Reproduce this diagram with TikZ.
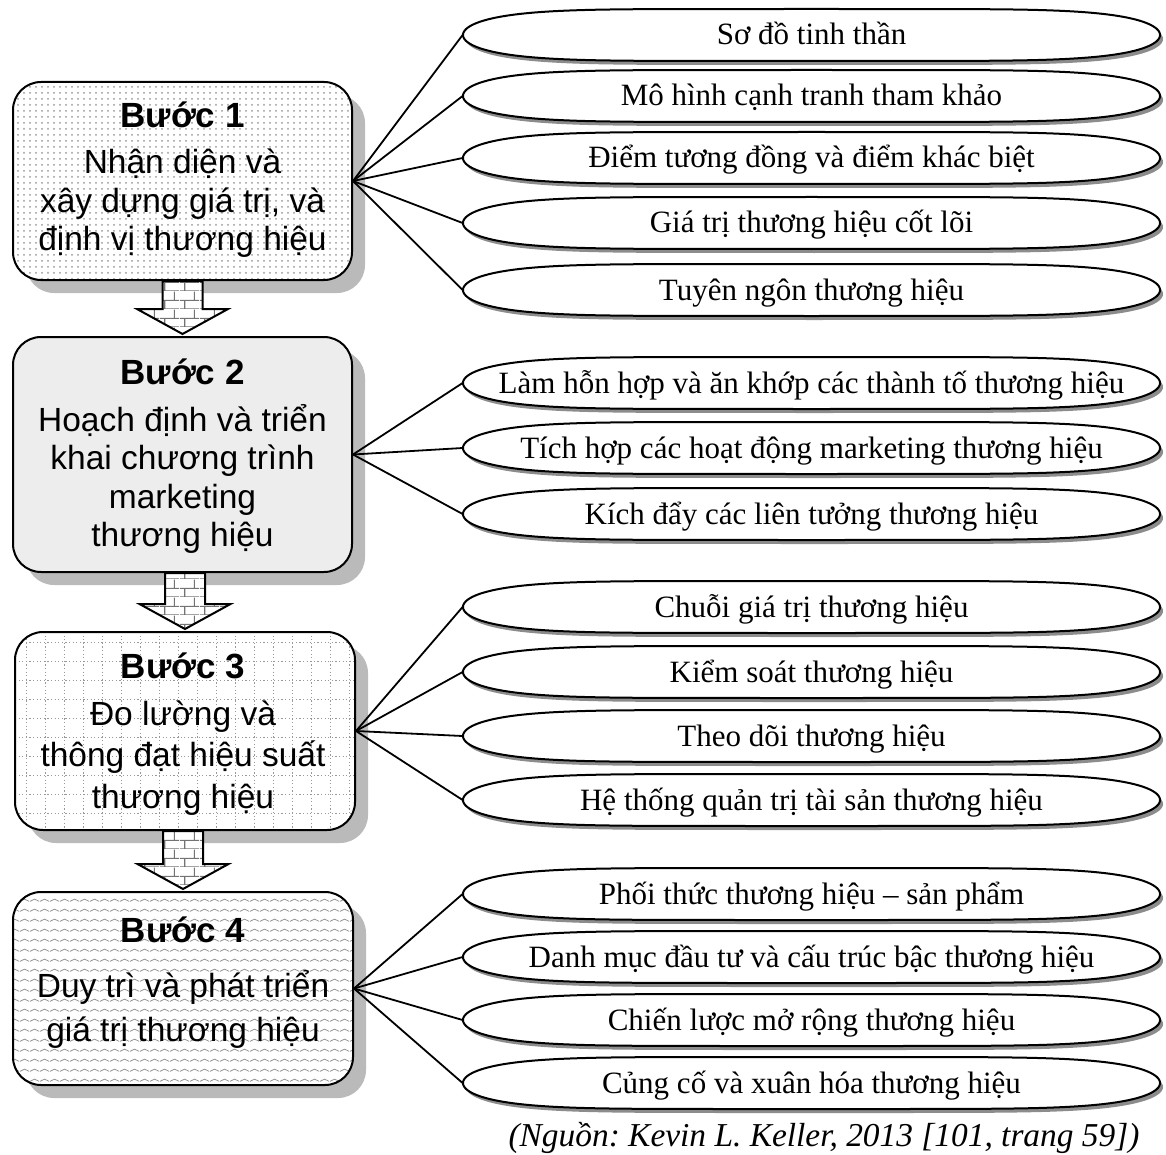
\documentclass[tikz,border=0pt]{standalone}
\usepackage{fontspec}
\setmainfont{Liberation Serif}
\setsansfont{Liberation Sans}
\usetikzlibrary{calc,patterns,patterns.meta,shadows,decorations.pathmorphing}

% brick wall fill for the step arrows
\tikzdeclarepattern{
  name=brickwall, type=uncolored,
  bounding box={(0pt,0pt) and (10pt,9pt)},
  tile size={(10pt,9pt)},
  code={
    \draw[line width=0.6pt] (0pt,0pt) -- (10pt,0pt) (0pt,4.5pt) -- (10pt,4.5pt)
      (2.5pt,0pt) -- (2.5pt,4.5pt) (7.5pt,4.5pt) -- (7.5pt,9pt);
  }}

% wavy line fill for the last step box
\tikzdeclarepattern{
  name=wavelines, type=uncolored,
  bounding box={(0pt,0pt) and (5pt,5pt)},
  tile size={(5pt,5pt)},
  code={
    \draw[line width=0.4pt] (0pt,2pt) -- (2.5pt,3.2pt) -- (5pt,2pt);
  }}

% oblong outline with a drop shadow, centred at (#1,#2)
\newcommand\oblongshape[2]{%
  \fill[black!45] plot[domain=0:360, samples=181, variable=\t]
    ({#1+3+348.5*cos(\t)*(abs(cos(\t))+0.00001)^(-0.6667)}, {#2+4+26*sin(\t)}) -- cycle;
  \draw[line width=1pt, fill=white] plot[domain=0:360, samples=181, variable=\t]
    ({#1+348.5*cos(\t)*(abs(cos(\t))+0.00001)^(-0.6667)}, {#2+26*sin(\t)}) -- cycle;
}

\begin{document}
\frenchspacing
\begin{tikzpicture}[x=0.5pt, y=-0.5pt,
  stepbox/.style={rectangle, rounded corners=14pt, draw=black, line width=1pt,
    fill=white, inner sep=0pt,
    drop shadow={shadow xshift=6.5pt, shadow yshift=-6.5pt, fill=black!27, opacity=1}},
  btext/.style={align=center, inner sep=0pt,
    font=\sffamily\fontsize{16.75}{19.25}\selectfont},
  etext/.style={rectangle, inner sep=0pt, minimum width=348.5pt, minimum height=27pt,
    text height=11pt, text depth=1pt, font=\fontsize{15.5}{18}\selectfont},
  conn/.style={line width=0.9pt},
  brickarrow/.style={draw=black, line width=1pt, preaction={fill=white},
    pattern=brickwall, pattern color=black!55},
  gridl/.style={black!40, line width=0.5pt, dash pattern=on 0.6pt off 1.2pt}
]
\useasboundingbox (0,0) rectangle (1166,1155);

% ---- step boxes ----
\node[stepbox, minimum width=169.5pt, minimum height=99pt,
  path picture={\fill[pattern=dots, pattern color=black!40]
    (path picture bounding box.south west) rectangle (path picture bounding box.north east);}]
  (b1) at (182.5,181) {};
\node[stepbox, minimum width=169.5pt, minimum height=117.5pt, fill=black!7]
  (b2) at (182.5,454.5) {};
\node[stepbox, minimum width=170pt, minimum height=99pt,
  path picture={
    \foreach \i in {1,...,18}
      \draw[gridl] ($(path picture bounding box.north west)+(\i*19-8,0)$) -- ($(path picture bounding box.south west)+(\i*19-8,0)$);
    \foreach \i in {1,...,11}
      \draw[gridl] ($(path picture bounding box.north west)+(0,\i*19-9)$) -- ($(path picture bounding box.north east)+(0,\i*19-9)$);
  }]
  (b3) at (185,731) {};
\node[stepbox, minimum width=170pt, minimum height=96.5pt,
  path picture={\fill[pattern=wavelines, pattern color=black!45]
    (path picture bounding box.south west) rectangle (path picture bounding box.north east);}]
  (b4) at (183,988.5) {};

% ---- box texts ----
\node[btext] (t1) at (182.5,180) {{\bfseries\fontsize{17.5}{19.25}\selectfont Bước 1}\\[3.75pt]
  Nhận diện và\\ xây dựng giá trị, và\\ định vị thương hiệu};
\node[btext] (t2) at (182.5,456) {{\bfseries\fontsize{17.5}{19.25}\selectfont Bước 2}\\[4.25pt]
  Hoạch định và triển\\ khai chương trình\\ marketing\\ thương hiệu};
\node[btext, font=\sffamily\fontsize{16.75}{20.75}\selectfont] (t3) at (183,734)
  {{\bfseries\fontsize{17.5}{20.75}\selectfont Bước 3}\\[2.75pt]
  Đo lường và\\ thông đạt hiệu suất\\ thương hiệu};
\node[btext, font=\sffamily\fontsize{16.75}{22}\selectfont] (t4) at (183,983)
  {{\bfseries\fontsize{17.5}{22}\selectfont Bước 4}\\[5.5pt]
  Duy trì và phát triển\\ giá trị thương hiệu};

% ---- arrows between the steps ----
\path[brickarrow] ($(b1.south)+(-20,0)$) -- ($(b1.south)+(20,0)$) -- ($(b2.north)+(20,-27)$)
  -- ($(b2.north)+(45.5,-27)$) -- ($(b2.north)+(0,-2)$) -- ($(b2.north)+(-45.5,-27)$)
  -- ($(b2.north)+(-20,-27)$) -- cycle;
\path[brickarrow] ($(b2.south -| b3.north)+(-20,0)$) -- ($(b2.south -| b3.north)+(20,0)$)
  -- ($(b3.north)+(20,-27)$) -- ($(b3.north)+(45.5,-27)$) -- ($(b3.north)+(0,-2)$)
  -- ($(b3.north)+(-45.5,-27)$) -- ($(b3.north)+(-20,-27)$) -- cycle;
\path[brickarrow] ($(b3.south -| b4.north)+(-20,0)$) -- ($(b3.south -| b4.north)+(20,0)$)
  -- ($(b4.north)+(20,-27)$) -- ($(b4.north)+(45.5,-27)$) -- ($(b4.north)+(0,-2)$)
  -- ($(b4.north)+(-45.5,-27)$) -- ($(b4.north)+(-20,-27)$) -- cycle;

% ---- oblong outlines ----
\foreach \cy in {35,96,158,223,290, 383,448,514, 607,672,736,800, 894,957,1020,1083}
  {\oblongshape{811.5}{\cy}}

% ---- oblong labels ----
\foreach \nm/\cy/\txt in {
  e1a/35/Sơ đồ tinh thần,
  e1b/96/Mô hình cạnh tranh tham khảo,
  e1c/158/Điểm tương đồng và điểm khác biệt,
  e1d/223/Giá trị thương hiệu cốt lõi,
  e1e/290/Tuyên ngôn thương hiệu,
  e2a/383/Làm hỗn hợp và ăn khớp các thành tố thương hiệu,
  e2b/448/Tích hợp các hoạt động marketing thương hiệu,
  e2c/514/Kích đẩy các liên tưởng thương hiệu,
  e3a/607/Chuỗi giá trị thương hiệu,
  e3b/672/Kiểm soát thương hiệu,
  e3c/736/Theo dõi thương hiệu,
  e3d/800/Hệ thống quản trị tài sản thương hiệu,
  e4a/894/Phối thức thương hiệu – sản phẩm,
  e4b/957/Danh mục đầu tư và cấu trúc bậc thương hiệu,
  e4c/1020/Chiến lược mở rộng thương hiệu,
  e4d/1083/Củng cố và xuân hóa thương hiệu}
  {\node[etext] (\nm) at (811.5,\cy) {\txt};}

% ---- connectors ----
\foreach \e in {e1a,e1b,e1c,e1d,e1e} \draw[conn] (b1.east) -- (\e.west);
\foreach \e in {e2a,e2b,e2c} \draw[conn] (b2.east) -- (\e.west);
\foreach \e in {e3a,e3b,e3c,e3d} \draw[conn] (b3.east) -- (\e.west);
\foreach \e in {e4a,e4b,e4c,e4d} \draw[conn] (b4.east) -- (\e.west);

% ---- source line ----
\node[inner sep=0pt, font=\itshape\fontsize{16.7}{18}\selectfont] (src) at (824,1138)
  {(Nguồn: Kevin L. Keller, 2013 [101, trang 59])};
\end{tikzpicture}
\end{document}
